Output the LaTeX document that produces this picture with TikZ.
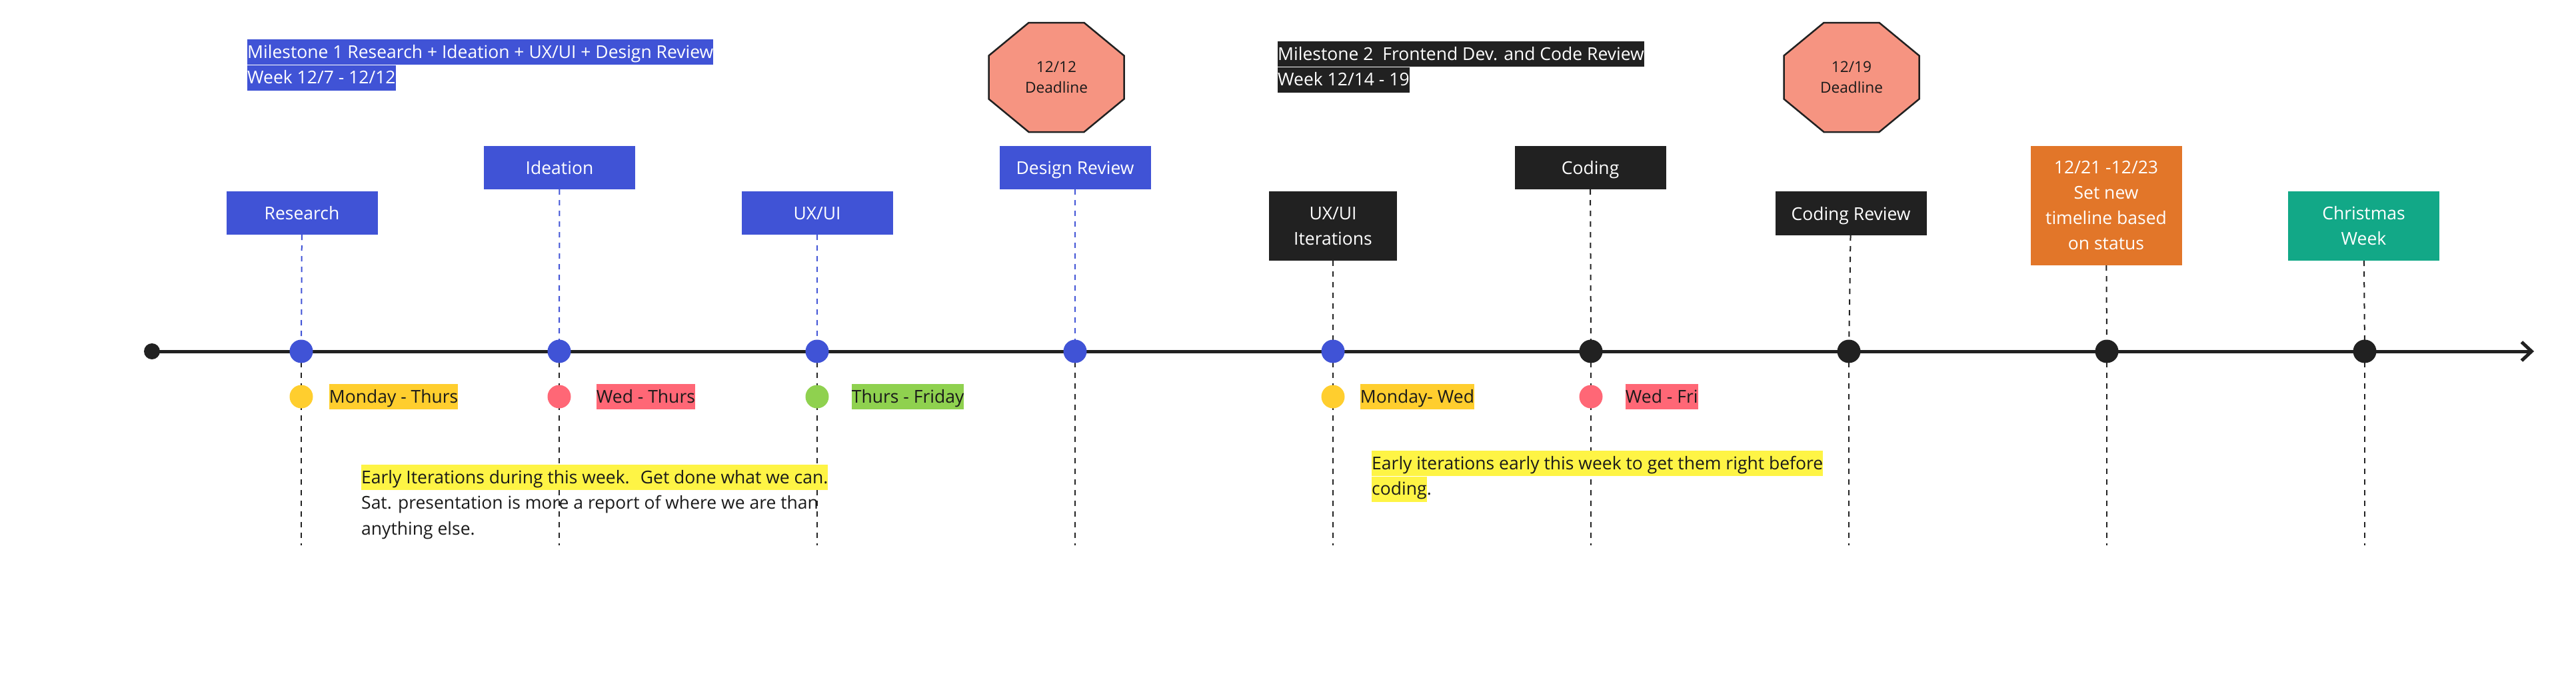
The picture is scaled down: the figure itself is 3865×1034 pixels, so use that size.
\documentclass[tikz,border=0pt]{standalone}
\usepackage{fontspec}
\setmainfont{Open Sans}
\usepackage{tikz}
\usetikzlibrary{positioning,arrows.meta}

\definecolor{mblue}{HTML}{4053D6}
\definecolor{mdark}{HTML}{212121}
\definecolor{morange}{HTML}{E27629}
\definecolor{mteal}{HTML}{12A887}
\definecolor{msalmon}{HTML}{F69481}
\definecolor{myellow}{HTML}{FFCE2E}
\definecolor{mred}{HTML}{FF6776}
\definecolor{mgreen}{HTML}{8FD14F}
\definecolor{mhigh}{HTML}{FEF445}
\definecolor{mtext}{HTML}{1A1A1A}

\begin{document}
\begin{tikzpicture}[x=1pt, y=-1pt,
  card/.style={text=white, inner sep=0pt, minimum width=227pt, minimum height=65pt,
    align=center, font=\fontsize{26.5}{38}\selectfont},
  oneline/.style={text height=20pt, text depth=0pt},
  hl/.style={inner sep=0pt, text height=28pt, text depth=10pt, anchor=west,
    text=mtext, font=\fontsize{26.5}{38}\selectfont},
  tick/.style={circle, inner sep=0pt, minimum size=35pt},
  updash/.style={line width=2pt, dash pattern=on 8pt off 8pt},
  lowdash/.style={line width=2pt, dash pattern=on 8pt off 8pt, mdark},
  deadline/.style={fill=msalmon, draw=mdark, line width=2.5pt},
  dltext/.style={align=center, text=mtext, font=\fontsize{22.7}{31}\selectfont},
  timeline/.style={line width=5pt, mdark, -{Straight Barb[length=15pt, width=28pt]}}]
  \useasboundingbox (0,0) rectangle (3865,1034);

  % milestone headers
  \node[hl, anchor=north west, fill=mblue, text=white] (m1a) at (371,59) {Milestone 1 Research + Ideation + UX/UI + Design Review};
  \node[hl, anchor=north west, fill=mblue, text=white] (m1b) at (m1a.south west) {Week 12/7 - 12/12};
  \node[hl, anchor=north west, fill=mdark, text=white] (m2a) at (1917,62) {Milestone 2~ Frontend Dev. and Code Review};
  \node[hl, anchor=north west, fill=mdark, text=white] (m2b) at (m2a.south west) {Week 12/14 - 19};

  % deadlines
  \coordinate (dl1) at (1585,116);
  \coordinate (dl2) at (2778,116);
  \filldraw[deadline] (dl1) ++(-41.5,-82) -- ++(83,0) -- ++(60,49.5) -- ++(0,65) -- ++(-60,49.5) -- ++(-83,0) -- ++(-60,-49.5) -- ++(0,-65) -- cycle;
  \filldraw[deadline] (dl2) ++(-41.5,-82) -- ++(83,0) -- ++(60,49.5) -- ++(0,65) -- ++(-60,49.5) -- ++(-83,0) -- ++(-60,-49.5) -- ++(0,-65) -- cycle;
  \node[dltext] (dl1t) at (dl1) {12/12\\Deadline};
  \node[dltext] (dl2t) at (dl2) {12/19\\Deadline};

  % task cards
  \node[card, oneline, fill=mblue] (research) at (453,319.5) {Research};
  \node[card, oneline, fill=mblue] (ideation) at (839.5,251.5) {Ideation};
  \node[card, oneline, fill=mblue] (uxui) at (1226,319.5) {UX/UI};
  \node[card, oneline, fill=mblue] (design) at (1613,251.5) {Design Review};
  \node[card, fill=mdark, minimum width=192pt, minimum height=104pt] (iter) at (2000,339) {UX/UI\\Iterations};
  \node[card, oneline, fill=mdark] (coding) at (2386,251.5) {Coding};
  \node[card, oneline, fill=mdark, minimum height=66pt] (codrev) at (2777,320) {Coding Review};
  \node[card, fill=morange, minimum height=179pt] (newplan) at (3160,308.5) {12/21 -12/23\\Set new\\timeline based\\on status};
  \node[card, fill=mteal, minimum height=104pt] (xmas) at (3546.5,339) {Christmas\\Week};

  % points on the timeline
  \coordinate (p1) at (452,527);
  \coordinate (p2) at (839,527);
  \coordinate (p3) at (1226,527);
  \coordinate (p4) at (1613,527);
  \coordinate (p5) at (2000,527);
  \coordinate (p6) at (2387,527);
  \coordinate (p7) at (2774,527);
  \coordinate (p8) at (3161,527);
  \coordinate (p9) at (3548,527);
  \coordinate (bot) at (0,818);
  \coordinate (tend) at (3802,527);

  \draw[updash, mblue] (research) -- (p1);
  \draw[updash, mblue] (ideation) -- (p2);
  \draw[updash, mblue] (uxui) -- (p3);
  \draw[updash, mblue] (design) -- (p4);
  \draw[updash, mdark] (iter) -- (p5);
  \draw[updash, mdark] (coding) -- (p6);
  \draw[updash, mdark] (codrev) -- (p7);
  \draw[updash, mdark] (newplan) -- (p8);
  \draw[updash, mdark] (xmas) -- (p9);

  \draw[lowdash] (p1) -- (p1 |- bot);
  \draw[lowdash] (p2) -- (p2 |- bot);
  \draw[lowdash] (p3) -- (p3 |- bot);
  \draw[lowdash] (p4) -- (p4 |- bot);
  \draw[lowdash] (p5) -- (p5 |- bot);
  \draw[lowdash] (p6) -- (p6 |- bot);
  \draw[lowdash] (p7) -- (p7 |- bot);
  \draw[lowdash] (p8) -- (p8 |- bot);
  \draw[lowdash] (p9) -- (p9 |- bot);

  % timeline
  \node[tick, fill=mdark, minimum size=24pt] (t0) at (228,527) {};
  \draw[timeline] (t0.center) -- (tend);
  \node[tick, fill=mblue] (t1) at (p1) {};
  \node[tick, fill=mblue] (t2) at (p2) {};
  \node[tick, fill=mblue] (t3) at (p3) {};
  \node[tick, fill=mblue] (t4) at (p4) {};
  \node[tick, fill=mblue] (t5) at (p5) {};
  \node[tick, fill=mdark] (t6) at (p6) {};
  \node[tick, fill=mdark] (t7) at (p7) {};
  \node[tick, fill=mdark] (t8) at (p8) {};
  \node[tick, fill=mdark] (t9) at (p9) {};

  % status
  \node[tick, fill=myellow] (s1) at (452,595) {};
  \node[tick, fill=mred] (s2) at (839,595) {};
  \node[tick, fill=mgreen] (s3) at (1226,595) {};
  \node[tick, fill=myellow] (s4) at (2000,595) {};
  \node[tick, fill=mred] (s5) at (2387,595) {};
  \node[hl, fill=myellow, right=24pt of s1] (l1) {Monday - Thurs};
  \node[hl, fill=mred, right=38pt of s2] (l2) {Wed - Thurs};
  \node[hl, fill=mgreen, right=34pt of s3] (l3) {Thurs - Friday};
  \node[hl, fill=myellow, right=23pt of s4] (l4) {Monday- Wed};
  \node[hl, fill=mred, right=34pt of s5] (l5) {Wed - Fri};

  % notes
  \node[hl, anchor=north west, fill=mhigh] (n1a) at (542,697) {Early Iterations during this week.~ Get done what we can.};
  \node[hl, anchor=north west] (n1b) at (n1a.south west) {Sat. presentation is more a report of where we are than};
  \node[hl, anchor=north west] (n1c) at (n1b.south west) {anything else.};
  \node[hl, anchor=north west, fill=mhigh] (n2a) at (2058,676) {Early iterations early this week to get them right before};
  \node[hl, anchor=north west, fill=mhigh] (n2b) at (n2a.south west) {coding};
  \node[hl, right=0pt of n2b] (n2c) {.};
\end{tikzpicture}
\end{document}
